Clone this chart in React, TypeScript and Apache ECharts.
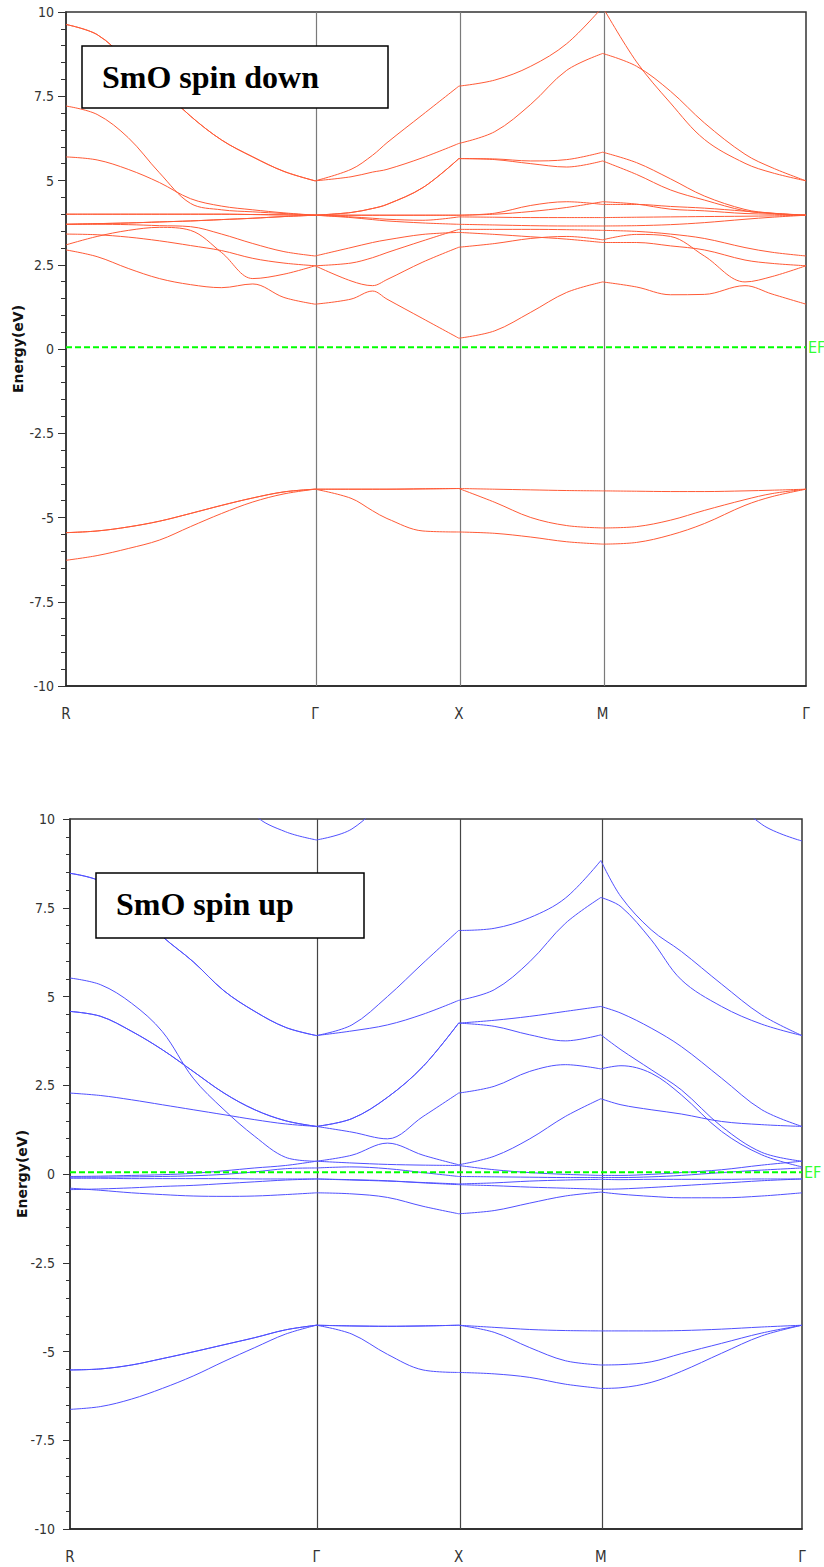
import React, { useEffect, useRef } from "react";
import * as echarts from "echarts";

// ---------- k-path ----------
const kLabels = ["R", "Γ", "X", "M", "Γ"];
const segLengths = [0.866, 0.5, 0.5, 0.707]; // R-Γ, Γ-X, X-M, M-Γ
const topFractions = [
  [0, 0.125, 0.25, 0.375, 0.5, 0.625, 0.75, 0.875, 1],
  [0, 0.25, 0.4, 0.5, 0.75, 1],
  [0, 0.25, 0.5, 0.75, 1],
  [0, 1 / 6, 1 / 3, 0.5, 0.7, 5 / 6, 1],
];
const bottomFractions = [
  [0, 0.125, 0.25, 0.375, 0.5, 0.625, 0.75, 0.875, 1],
  [0, 0.25, 0.5, 0.75, 1],
  [0, 0.25, 0.5, 0.75, 1],
  [0, 0.1, 0.25, 0.4, 0.6, 0.8, 1],
];
const EF = 0.05;
const yMin = -10;
const yMax = 10;
const yStep = 2.5;

// ---------- SmO spin down (energies in eV on topFractions grid) ----------
const down1 = [9.63, 9.33, 8.55, 7.78, 6.91, 6.2, 5.7, 5.27, 4.99, 5.33, 5.75, 6.12, 6.96, 7.8, 7.98, 8.39, 9.06, 10.15, 8.52, 7.3, 6.22, 5.51, 5.23, 4.99];
const down2 = [9.63, 9.33, 8.55, 7.78, 6.91, 6.2, 5.7, 5.27, 4.99, 5.11, 5.25, 5.33, 5.68, 6.1, 6.45, 7.26, 8.27, 8.77, 8.39, 7.65, 6.71, 5.78, 5.38, 4.99];
const down3 = [7.21, 6.96, 6.27, 5.23, 4.32, 4.13, 4.07, 4.02, 3.97, 4.05, 4.17, 4.29, 4.79, 5.65, 5.64, 5.58, 5.62, 5.84, 5.53, 5.05, 4.54, 4.14, 4.03, 3.97];
const down4 = [5.7, 5.61, 5.33, 4.94, 4.46, 4.24, 4.13, 4.04, 3.97, 4.05, 4.17, 4.29, 4.79, 5.65, 5.62, 5.5, 5.4, 5.58, 5.18, 4.72, 4.42, 4.1, 4.02, 3.97];
const down5 = [4.0, 4.0, 4.0, 4.0, 4.0, 4.0, 3.99, 3.98, 3.97, 3.97, 3.97, 3.97, 3.97, 3.97, 4.03, 4.26, 4.37, 4.29, 4.29, 4.23, 4.18, 4.09, 4.03, 3.97];
const down6 = [4.0, 4.0, 4.0, 4.0, 4.0, 4.0, 3.99, 3.98, 3.97, 3.97, 3.97, 3.97, 3.97, 3.97, 4.0, 4.08, 4.2, 4.37, 4.3, 4.15, 4.1, 4.02, 4.0, 3.97];
const down7 = [3.7, 3.72, 3.74, 3.77, 3.8, 3.84, 3.88, 3.93, 3.97, 3.92, 3.88, 3.85, 3.82, 3.92, 3.91, 3.9, 3.9, 3.9, 3.91, 3.92, 3.93, 3.94, 3.95, 3.97];
const down8 = [3.7, 3.72, 3.74, 3.77, 3.8, 3.84, 3.88, 3.93, 3.97, 3.9, 3.84, 3.8, 3.74, 3.7, 3.68, 3.66, 3.65, 3.65, 3.66, 3.69, 3.75, 3.85, 3.91, 3.97];
const down9 = [3.7, 3.7, 3.69, 3.66, 3.63, 3.41, 3.13, 2.89, 2.76, 3.01, 3.16, 3.24, 3.4, 3.46, 3.4, 3.33, 3.26, 3.16, 3.16, 3.06, 2.94, 2.64, 2.54, 2.47];
const down10 = [3.09, 3.34, 3.52, 3.61, 3.52, 2.86, 2.09, 2.22, 2.47, 2.55, 2.71, 2.86, 3.21, 3.55, 3.55, 3.55, 3.54, 3.52, 3.49, 3.41, 3.28, 3.01, 2.87, 2.76];
const down11 = [3.41, 3.39, 3.32, 3.21, 3.07, 2.92, 2.69, 2.55, 2.47, 2.02, 1.88, 2.06, 2.58, 3.02, 3.13, 3.28, 3.34, 3.24, 3.4, 3.34, 2.76, 1.99, 2.15, 2.47];
const down12 = [2.94, 2.74, 2.39, 2.09, 1.91, 1.82, 1.93, 1.53, 1.33, 1.48, 1.72, 1.48, 0.9, 0.32, 0.54, 1.09, 1.68, 1.99, 1.84, 1.61, 1.62, 1.88, 1.63, 1.33];
const downV1 = [-5.45, -5.4, -5.28, -5.11, -4.88, -4.64, -4.42, -4.24, -4.16, -4.16, -4.16, -4.16, -4.15, -4.14, -4.16, -4.18, -4.2, -4.21, -4.22, -4.23, -4.23, -4.21, -4.19, -4.16];
const downV2 = [-6.27, -6.13, -5.92, -5.67, -5.27, -4.88, -4.54, -4.3, -4.16, -4.43, -4.8, -5.03, -5.4, -5.43, -5.47, -5.58, -5.72, -5.79, -5.74, -5.52, -5.18, -4.64, -4.38, -4.16];
const downV3 = [-5.45, -5.4, -5.28, -5.11, -4.88, -4.64, -4.42, -4.24, -4.16, -4.16, -4.16, -4.16, -4.15, -4.14, -4.55, -5.0, -5.24, -5.31, -5.27, -5.08, -4.79, -4.47, -4.29, -4.16];

// ---------- SmO spin up (energies in eV on bottomFractions grid) ----------
const up0 = [16, 16, 16, 15, 13.5, 11.5, 10.12, 9.64, 9.41, 9.72, 10.7, 12.3, 14, 14, 14, 14, 14, 14, 14, 13, 11, 9.85, 9.38];
const up1 = [8.47, 8.24, 7.55, 6.69, 5.98, 5.16, 4.58, 4.13, 3.9, 4.2, 5.0, 5.94, 6.86, 6.92, 7.22, 7.77, 8.83, 7.81, 6.88, 6.27, 5.35, 4.48, 3.9];
const up2 = [8.47, 8.24, 7.55, 6.69, 5.98, 5.16, 4.58, 4.13, 3.9, 4.03, 4.2, 4.5, 4.89, 5.19, 5.98, 7.06, 7.79, 7.53, 6.6, 5.47, 4.72, 4.22, 3.9];
const up3 = [4.58, 4.44, 4.02, 3.5, 2.89, 2.28, 1.81, 1.5, 1.34, 1.56, 2.16, 3.03, 4.25, 4.33, 4.44, 4.58, 4.72, 4.53, 4.11, 3.59, 2.7, 1.81, 1.34];
const up4 = [4.58, 4.44, 4.02, 3.5, 2.89, 2.28, 1.81, 1.5, 1.34, 1.56, 2.16, 3.03, 4.25, 4.16, 3.92, 3.75, 3.92, 3.5, 2.94, 2.37, 1.34, 0.61, 0.36];
const up5 = [2.28, 2.21, 2.09, 1.95, 1.81, 1.67, 1.53, 1.41, 1.34, 1.18, 0.99, 1.62, 2.28, 2.47, 2.89, 3.08, 2.96, 3.05, 2.84, 2.23, 1.2, 0.54, 0.2];
const up6 = [5.52, 5.33, 4.81, 4.01, 2.7, 1.81, 1.06, 0.47, 0.36, 0.53, 0.87, 0.53, 0.26, 0.5, 0.99, 1.62, 2.12, 1.95, 1.81, 1.69, 1.48, 1.39, 1.34];
const up7 = [-0.07, -0.06, -0.04, -0.02, 0.02, 0.09, 0.17, 0.24, 0.36, 0.31, 0.27, 0.25, 0.24, 0.12, 0.04, -0.01, -0.04, -0.04, -0.01, 0.04, 0.12, 0.25, 0.36];
const up8 = [-0.09, -0.09, -0.08, -0.07, -0.05, -0.01, 0.06, 0.15, 0.17, 0.2, 0.15, 0.04, -0.07, -0.08, -0.09, -0.1, -0.1, -0.1, -0.08, -0.04, 0.04, 0.11, 0.17];
const up9 = [-0.12, -0.12, -0.13, -0.13, -0.13, -0.13, -0.14, -0.14, -0.14, -0.17, -0.2, -0.24, -0.28, -0.25, -0.2, -0.17, -0.15, -0.16, -0.15, -0.15, -0.15, -0.14, -0.14];
const up10 = [-0.44, -0.42, -0.39, -0.35, -0.32, -0.27, -0.22, -0.17, -0.14, -0.16, -0.19, -0.25, -0.3, -0.33, -0.37, -0.4, -0.43, -0.42, -0.38, -0.33, -0.26, -0.19, -0.14];
const up11 = [-0.4, -0.46, -0.53, -0.58, -0.62, -0.63, -0.62, -0.58, -0.53, -0.56, -0.66, -0.91, -1.12, -1.03, -0.82, -0.62, -0.51, -0.57, -0.63, -0.67, -0.67, -0.62, -0.53];
const upV1 = [-5.52, -5.49, -5.38, -5.2, -5.01, -4.81, -4.61, -4.39, -4.26, -4.28, -4.29, -4.28, -4.26, -4.32, -4.38, -4.41, -4.42, -4.42, -4.42, -4.41, -4.37, -4.31, -4.26];
const upV2 = [-6.63, -6.55, -6.34, -6.04, -5.69, -5.28, -4.89, -4.51, -4.26, -4.51, -5.08, -5.52, -5.59, -5.63, -5.73, -5.92, -6.04, -6.02, -5.87, -5.56, -5.05, -4.56, -4.26];
const upV3 = [-5.52, -5.49, -5.38, -5.2, -5.01, -4.81, -4.61, -4.39, -4.26, -4.28, -4.29, -4.28, -4.26, -4.46, -4.89, -5.26, -5.38, -5.37, -5.29, -5.06, -4.77, -4.48, -4.26];

const downBands = [down1, down2, down3, down4, down5, down6, down7, down8, down9, down10, down11, down12, downV1, downV2, downV3];
const upBands = [up0, up1, up2, up3, up4, up5, up6, up7, up8, up9, up10, up11, upV1, upV2, upV3];

const titles = ["SmO spin down", "SmO spin up"];

// ---------- helpers ----------
const kPoints = segLengths.reduce((acc: number[], l) => { acc.push(acc[acc.length - 1] + l); return acc; }, [0]);
const kEnd = kPoints[kPoints.length - 1];

function buildK(fractions: number[][]) {
  const k: number[] = [];
  const bounds: number[] = [0];
  let start = 0;
  fractions.forEach((fr, s) => {
    fr.forEach((f, i) => {
      if (s > 0 && i === 0) return;
      k.push(start + f * segLengths[s]);
    });
    bounds.push(bounds[s] + fr.length - 1);
    start += segLengths[s];
  });
  return { k, bounds };
}

const NARROW = '"Liberation Sans Narrow", "DejaVu Sans Condensed", "Liberation Sans", sans-serif';

function bandSeries(bands: number[][], fr: number[][], gi: number, color: string) {
  const g = buildK(fr);
  const out: any[] = [];
  bands.forEach((b) => {
    for (let s = 0; s < segLengths.length; s++) {
      const data: number[][] = [];
      for (let i = g.bounds[s]; i <= g.bounds[s + 1]; i++) data.push([g.k[i], b[i]]);
      out.push({
        type: "line",
        xAxisIndex: gi,
        yAxisIndex: gi,
        data,
        showSymbol: false,
        smooth: 0.35,
        clip: true,
        silent: true,
        z: 3,
        lineStyle: { color, width: 1 },
      });
    }
  });
  return out;
}

function refSeries(gi: number, vColor: string) {
  return {
    type: "line",
    xAxisIndex: gi,
    yAxisIndex: gi,
    data: [[kPoints[0], EF], [kEnd, EF]],
    showSymbol: false,
    silent: true,
    z: 6,
    lineStyle: { color: "#00ff00", width: 2, type: [6, 3] },
    endLabel: { show: true, formatter: "EF", color: "#33ff33", fontSize: 16, fontFamily: NARROW, distance: 2 },
    markLine: {
      silent: true,
      symbol: ["none", "none"],
      z: 1,
      label: { show: false },
      lineStyle: { color: vColor, width: 1.2, type: "solid" },
      data: kPoints.slice(1, kPoints.length - 1).map((v) => ({ xAxis: v })),
    },
  };
}

function xAxisFor(gi: number, margin: number) {
  return {
    type: "value",
    gridIndex: gi,
    min: 0,
    max: kEnd,
    axisLine: { show: true, onZero: false, lineStyle: { color: "#222", width: 1.5 } },
    axisTick: { show: false },
    splitLine: { show: false },
    axisLabel: {
      customValues: kPoints,
      formatter: (v: number) => {
        const i = kPoints.findIndex((p) => Math.abs(p - v) < 1e-6);
        return i >= 0 ? kLabels[i] : "";
      },
      margin,
      fontSize: 15,
      fontFamily: NARROW,
      color: "#333",
    },
  };
}

function yAxisFor(gi: number, tickLen: number, minorLen: number, margin: number, nameGap: number) {
  return {
    type: "value",
    gridIndex: gi,
    min: yMin,
    max: yMax,
    interval: yStep,
    name: "Energy(eV)",
    nameLocation: "middle",
    nameGap,
    nameMoveOverlap: false,
    nameTextStyle: { fontWeight: "bold", fontSize: 14, fontFamily: '"DejaVu Sans", sans-serif', color: "#111" },
    axisLine: { show: true, onZero: false, lineStyle: { color: "#333", width: 1.5 } },
    axisTick: { show: true, inside: false, length: tickLen, lineStyle: { color: "#333" } },
    minorTick: { show: true, splitNumber: 5, length: minorLen, lineStyle: { color: "#333" } },
    splitLine: { show: false },
    axisLabel: { margin, fontSize: 14, fontFamily: NARROW, color: "#333" },
  };
}

function titleBox(x: number, y: number, w: number, h: number, text: string, tx: number, ty: number) {
  return [
    { type: "rect", shape: { x, y, width: w, height: h }, style: { fill: "#fff", stroke: "#000", lineWidth: 1.5 }, z: 100 },
    {
      type: "text",
      x: tx,
      y: ty,
      z: 101,
      style: {
        text,
        fill: "#000",
        fontSize: 32,
        fontWeight: "bold",
        fontFamily: '"Liberation Serif", "Times New Roman", serif',
        verticalAlign: "middle",
        align: "left",
      },
    },
  ];
}

export default function App() {
  const ref = useRef<HTMLDivElement>(null);
  useEffect(() => {
    if (!ref.current) return;
    const chart = echarts.init(ref.current, undefined, { renderer: "svg" });
    const gridCommon = { show: true, borderColor: "#333", borderWidth: 1.5, backgroundColor: "transparent", containLabel: false, outerBoundsMode: "none" };
    const option: any = {
      animation: false,
      backgroundColor: "#fff",
      grid: [
        { ...gridCommon, left: 66, top: 12, width: 740, height: 674 },
        { ...gridCommon, left: 70, top: 819, width: 732, height: 710 },
      ],
      xAxis: [xAxisFor(0, 20), xAxisFor(1, 20)],
      yAxis: [yAxisFor(0, 8, 5, 12, 41), yAxisFor(1, 7, 4, 15, 41)],
      series: [
        refSeries(0, "#7a7a7a"),
        refSeries(1, "#444"),
        ...bandSeries(downBands, topFractions, 0, "#ff5a36"),
        ...bandSeries(upBands, bottomFractions, 1, "#5050ff"),
      ],
      graphic: [
        ...titleBox(82, 46, 306, 62, titles[0], 102, 77),
        ...titleBox(96, 873, 268, 65, titles[1], 116, 904),
      ],
    };
    chart.setOption(option);
    return () => chart.dispose();
  }, []);
  return (
    <div
      ref={ref}
      style={{ position: "absolute", left: 0, top: 0, width: 824, height: 1567, background: "#fff" }}
    />
  );
}
